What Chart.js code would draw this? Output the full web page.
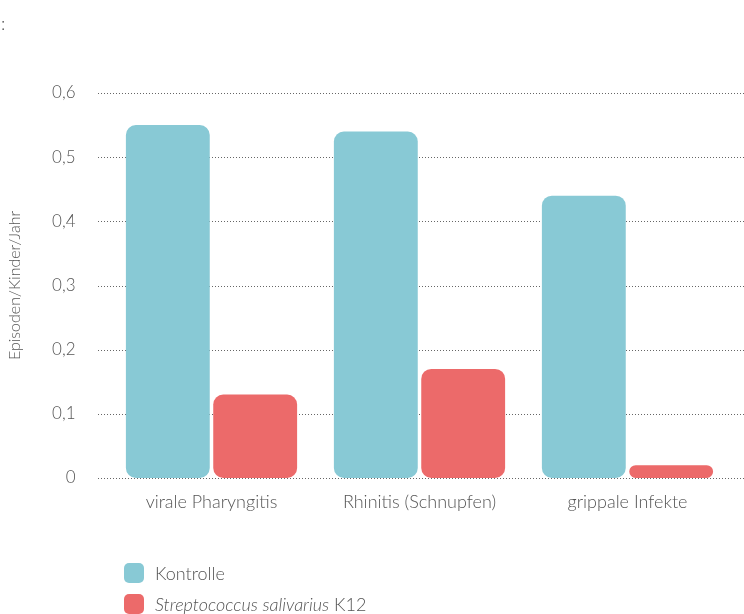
<!DOCTYPE html>
<html lang="de">
<head>
<meta charset="utf-8">
<script src="https://cdn.jsdelivr.net/npm/chart.js@4.4.1/dist/chart.umd.min.js"></script>
<style>
    html, body {
        margin: 0;
        padding: 0;
        background: #fff;
    }
    .wrap {
        position: relative;
        width: 744px;
        height: 614px;
        overflow: hidden;
        font-family: Lato, "Open Sans", sans-serif;
        font-weight: 300;
        color: #555;
    }
    #chart {
        position: absolute;
        left: 0;
        top: 0;
    }
    .colon {
        position: absolute;
        left: 1px;
        top: 12px;
        font-size: 18px;
    }
    .legend {
        position: absolute;
        left: 124px;
        top: 561px;
        font-size: 18px;
    }
    .legend-item {
        display: flex;
        align-items: center;
        height: 23px;
        margin-bottom: 8px;
    }
    .swatch {
        width: 20px;
        height: 20px;
        border-radius: 5px;
        margin-right: 11px;
    }
</style>
</head>
<body>
<div class="wrap">
    <canvas id="chart" width="744" height="614"></canvas>
    <div class="colon">:</div>
    <div class="legend" id="legend"></div>
</div>
<script>
const categories = ["virale Pharyngitis", "Rhinitis (Schnupfen)", "grippale Infekte"];
const kontrolle = [0.55, 0.54, 0.44];
const k12 = [0.13, 0.17, 0.02];
const yTicks = [0, 0.1, 0.2, 0.3, 0.4, 0.5, 0.6];

const seriesNames = ["Kontrolle", "<i>Streptococcus salivarius</i> K12"];
const seriesColors = ["#88c9d5", "#ec6a6a"];

const textColor = "#555";
const fontFamily = "Lato, 'Open Sans', sans-serif";

// dotted grid lines, a bit wider than the plot area
const dottedGrid = {
    id: "dottedGrid",
    beforeDatasetsDraw(chart) {
        const ctx = chart.ctx;
        const y = chart.scales.y;
        ctx.save();
        ctx.strokeStyle = "#666";
        ctx.lineWidth = 1;
        ctx.setLineDash([1, 2]);
        yTicks.forEach((v) => {
            const py = Math.round(y.getPixelForValue(v)) + 0.5;
            ctx.beginPath();
            ctx.moveTo(98, py);
            ctx.lineTo(744, py);
            ctx.stroke();
        });
        ctx.restore();
    }
};

new Chart(document.getElementById("chart"), {
    type: "bar",
    data: {
        labels: categories,
        datasets: [{
            label: "Kontrolle",
            data: kontrolle,
            backgroundColor: seriesColors[0],
            borderRadius: 10,
            borderSkipped: false,
            categoryPercentage: 0.84,
            barPercentage: 0.96
        }, {
            label: "Streptococcus salivarius K12",
            data: k12,
            backgroundColor: seriesColors[1],
            borderRadius: 10,
            borderSkipped: false,
            categoryPercentage: 0.84,
            barPercentage: 0.96
        }]
    },
    options: {
        responsive: false,
        animation: false,
        layout: {
            padding: {
                top: 93,
                right: 12.5,
                left: 0,
                bottom: 0
            }
        },
        plugins: {
            legend: {
                display: false
            },
            tooltip: {
                enabled: false
            }
        },
        scales: {
            x: {
                grid: {
                    display: false
                },
                border: {
                    display: false
                },
                ticks: {
                    color: textColor,
                    padding: 5,
                    font: {
                        family: fontFamily,
                        size: 18,
                        weight: 300
                    }
                },
                afterFit(scale) {
                    scale.height = 136;
                }
            },
            y: {
                min: 0,
                max: 0.6,
                afterBuildTicks(scale) {
                    scale.ticks = yTicks.map((v) => ({ value: v }));
                },
                grid: {
                    display: false
                },
                border: {
                    display: false
                },
                ticks: {
                    color: textColor,
                    padding: 24,
                    font: {
                        family: fontFamily,
                        size: 17,
                        weight: 300
                    },
                    callback: (v) => String(v).replace(".", ",")
                },
                title: {
                    display: true,
                    text: "Episoden/Kinder/Jahr",
                    color: textColor,
                    padding: { top: 5, bottom: 0 },
                    font: {
                        family: fontFamily,
                        size: 16,
                        weight: 300
                    }
                },
                afterFit(scale) {
                    scale.width = 107.5;
                }
            }
        }
    },
    plugins: [dottedGrid]
});

const legendEl = document.getElementById("legend");
seriesNames.forEach((name, i) => {
    const item = document.createElement("div");
    item.className = "legend-item";
    item.innerHTML = `<span class="swatch" style="background:${seriesColors[i]}"></span><span>${name}</span>`;
    legendEl.appendChild(item);
});
</script>
</body>
</html>
